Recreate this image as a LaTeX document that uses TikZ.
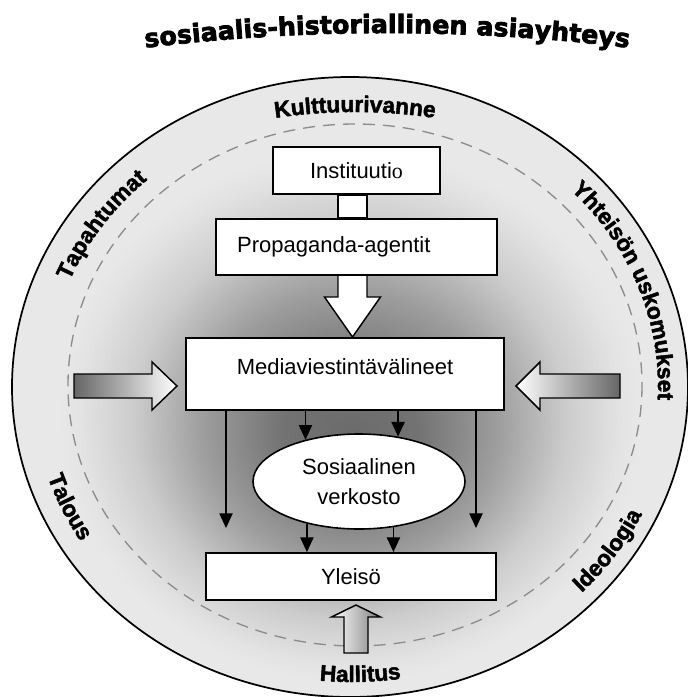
\documentclass[tikz,border=0pt]{standalone}
\usepackage{fontspec}
\setmainfont{Liberation Sans}
\newfontfamily\ringfont[FakeBold=2]{Liberation Sans Bold}
\newfontfamily\titlefont[FakeBold=3]{DejaVu Sans Bold}
\newfontfamily\serifo{Liberation Serif}
\usetikzlibrary{arrows.meta, calc, shapes.geometric, decorations.text}

% dark middle, light ring
\pgfdeclareradialshading{discshade}{\pgfpoint{0bp}{-4bp}}{%
  color(0bp)=(black!58); color(5bp)=(black!55); color(11bp)=(black!38);
  color(16bp)=(black!20); color(20bp)=(black!11); color(21.5bp)=(black!9);
  color(50bp)=(black!9)}

\begin{document}
\begin{tikzpicture}[x=0.75pt, y=-0.75pt,
  box/.style={draw, line width=1.5pt, fill=white, inner sep=0pt,
    font=\fontsize{16.5}{22.5}\selectfont},
  thinarrow/.style={line width=0.9pt, -{Triangle[length=11pt, width=10pt]}},
  blockarrow/.style={draw, line width=1.1pt, line join=miter},
  ringtext/.style={decorate, decoration={text along path, text align=center,
    text={|\ringfont\fontsize{17}{20}\selectfont|#1}}}]

  \useasboundingbox (0,0) rectangle (688,697);

  % outer disc and dashed ring
  \shade[shading=discshade] (350,387) ellipse [x radius=338, y radius=310];
  \draw[line width=1.3pt] (350,387) ellipse [x radius=338, y radius=310];
  \draw[dashed, dash pattern=on 9pt off 6pt, black!45, line width=1pt]
    (355,385) ellipse [x radius=287, y radius=261];

  % centres of the curved texts
  \coordinate (rc) at (352,386);
  \coordinate (kc) at (355,648);
  \coordinate (tc) at (387,2025);

  \begin{scope}[y=0.75pt] % angles counted upward here
    % title
    \path[decorate, decoration={text along path, text align=center,
      text={|\titlefont\fontsize{19}{22}\selectfont|sosiaalis-historiallinen asiayhteys}}]
      (tc) ++(99:1992) arc[start angle=99, end angle=81, radius=1992];
    % ring labels
    \path[ringtext=Kulttuurivanne] (kc) ++(104:536) arc[start angle=104, end angle=76, radius=536];
    \path[ringtext=Tapahtumat] (rc) ++(162:305 and 278)
      arc[start angle=162, end angle=128, x radius=305, y radius=278];
    \path[ringtext={Yhteisön uskomukset}] (rc) ++(55:306 and 280)
      arc[start angle=55, end angle=-14, x radius=306, y radius=280];
    \path[ringtext=Talous] (rc) ++(190:320 and 293)
      arc[start angle=190, end angle=220, x radius=320, y radius=293];
    \path[ringtext=Ideologia] (rc) ++(-52:322 and 295)
      arc[start angle=-52, end angle=-18, x radius=322, y radius=295];
    \path[ringtext=Hallitus] (rc) ++(-104:323 and 296)
      arc[start angle=-104, end angle=-73, x radius=323, y radius=296];
  \end{scope}

  % boxes
  \node[box, minimum width=125.25pt, minimum height=35.25pt] (inst) at (356.5,170.5) {Instituuti{\serifo o}};
  \node[box, minimum width=210.75pt, minimum height=42pt, text width=179pt, align=left] (prop) at (356.5,247) {Propaganda-agentit};
  \node[box, minimum width=238.5pt, minimum height=54pt, text depth=10.5pt] (media) at (345,374) {Mediaviestintävälineet};
  \node[box, ellipse, line width=1.2pt, minimum width=159pt, minimum height=71.25pt, align=center] (soc) at (359,481.5) {Sosiaalinen\\verkosto};
  \node[box, minimum width=217.5pt, minimum height=35.25pt] (yle) at (351,576.5) {Yleisö};

  % block arrows
  \coordinate (ax) at (352.5,0);
  \draw[blockarrow, fill=white] ($(ax |- inst.south)+(-14.5,0)$) rectangle ($(ax |- prop.north)+(14.5,0)$);
  \draw[blockarrow, fill=white] ($(ax |- prop.south)+(-14.5,0)$) -- ++(0,21) -- ++(-13.5,0)
    -- (ax |- media.north) -- ($(ax |- prop.south)+(28,21)$) -- ++(-13.5,0)
    -- ($(ax |- prop.south)+(14.5,0)$);

  \coordinate (lt) at (74,386);
  \coordinate (rt) at (620,386);
  \coordinate (bt) at (356,653);
  \draw[blockarrow, left color=black!60, right color=white] ($(lt)+(0,-12)$) -- ++(78,0) -- ++(0,-12)
    -- ($(media.west)+(-8,12)$) -- ($(lt)+(78,24)$) -- ++(0,-12) -- ($(lt)+(0,12)$) -- cycle;
  \draw[blockarrow, left color=white, right color=black!60] ($(rt)+(0,-12)$) -- ++(-80,0) -- ++(0,-12)
    -- ($(media.east)+(11,12)$) -- ($(rt)+(-80,24)$) -- ++(0,-12) -- ($(rt)+(0,12)$) -- cycle;
  \draw[blockarrow, left color=white, right color=black!50] ($(bt)+(-12,0)$) -- ++(0,-36) -- ++(-12.5,0)
    -- ($(yle.south)+(5,4)$) -- ($(bt)+(24.5,-36)$) -- ++(-12.5,0) -- ($(bt)+(12,0)$) -- cycle;

  % thin arrows
  \coordinate (e1) at (226,528);
  \coordinate (e4) at (476,528);
  \draw[thinarrow] (e1 |- media.south) -- (e1);
  \draw[thinarrow] (e4 |- media.south) -- (e4);
  \draw[thinarrow] (soc.142 |- media.south) -- (soc.142);
  \draw[thinarrow] (soc.49 |- media.south) -- (soc.49);
  \draw[thinarrow] (soc.219) -- (soc.219 |- yle.north);
  \draw[thinarrow] (soc.307) -- (soc.307 |- yle.north);

\end{tikzpicture}
\end{document}
